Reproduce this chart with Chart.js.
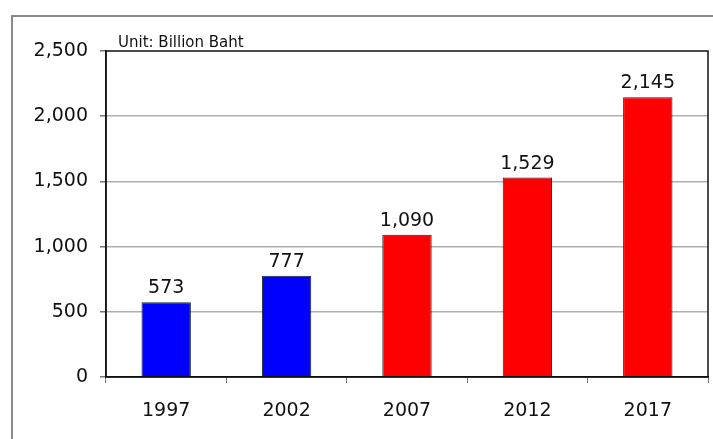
<!DOCTYPE html>
<html>
<head>
<meta charset="utf-8">
<script src="https://cdn.jsdelivr.net/npm/chart.js@4.4.1/dist/chart.umd.min.js"></script>
<style>
  html, body { margin: 0; padding: 0; background: #fff; overflow: hidden; }
  #wrap { width: 713px; height: 439px; position: relative; }
</style>
</head>
<body>
<div id="wrap"><canvas id="budget_chart" width="713" height="439"></canvas></div>
<script>
// chart data
const years = ["1997", "2002", "2007", "2012", "2017"];
const budget_values = [573, 777, 1090, 1529, 2145];
const bar_colors = ["#0000ff", "#0000ff", "#ff0000", "#ff0000", "#ff0000"];
const y_ticks = [0, 500, 1000, 1500, 2000, 2500];
const unit_text = "Unit: Billion Baht";

const font_family = "'DejaVu Sans', Verdana, sans-serif";

// draws frame, plot border, unit note and value labels
const decorations = {
    id: "decorations",
    afterDatasetsDraw(chart) {
        const ctx = chart.ctx;
        const meta = chart.getDatasetMeta(0);
        ctx.save();
        ctx.font = "19px " + font_family;
        ctx.fillStyle = "#111";
        ctx.textAlign = "center";
        ctx.textBaseline = "alphabetic";
        meta.data.forEach((bar, i) => {
            ctx.fillText(budget_values[i].toLocaleString("en-US"), bar.x, bar.y - 9);
        });
        ctx.restore();
    },
    afterDraw(chart) {
        const ctx = chart.ctx;
        const area = chart.chartArea;
        ctx.save();
        // outer frame: left and top edges only
        ctx.fillStyle = "#8a8a8a";
        ctx.fillRect(11, 15, 2, 424);
        ctx.fillRect(11, 15, 702, 2);
        // plot border
        ctx.strokeStyle = "#111";
        ctx.lineWidth = 1.5;
        ctx.strokeRect(area.left, area.top, area.right - area.left, area.bottom - area.top);
        // unit note
        ctx.font = "15px " + font_family;
        ctx.fillStyle = "#111";
        ctx.textAlign = "left";
        ctx.textBaseline = "alphabetic";
        ctx.fillText(unit_text, area.left + 12, area.top - 4);
        ctx.restore();
    }
};

const budget_chart = new Chart("budget_chart", {
    type: "bar",
    data: {
        labels: years,
        datasets: [{
            label: "budget",
            data: budget_values,
            backgroundColor: bar_colors,
            borderColor: "#222",
            borderWidth: 1,
            barPercentage: 0.41,
            categoryPercentage: 1.0
        }]
    },
    options: {
        animation: false,
        responsive: false,
        layout: { padding: { left: 0, top: 51, right: 5, bottom: 0 } },
        plugins: {
            legend: { display: false },
            tooltip: { enabled: false }
        },
        scales: {
            x: {
                grid: {
                    offset: true,
                    drawOnChartArea: false,
                    tickLength: 6,
                    color: "#777"
                },
                border: { color: "#111", width: 1.5 },
                ticks: {
                    color: "#111",
                    padding: 17,
                    font: { family: font_family, size: 19 }
                },
                afterFit: (scale) => { scale.height = 62; }
            },
            y: {
                min: 0,
                max: 2500,
                afterBuildTicks: (scale) => {
                    scale.ticks = y_ticks.map(v => ({ value: v }));
                },
                grid: {
                    color: (c) => (c.tick && (c.tick.value === 0 || c.tick.value === 2500)) ? "rgba(0,0,0,0)" : "#b0b0b0",
                    tickColor: "#777",
                    tickLength: 6,
                    lineWidth: 1.5
                },
                border: { color: "#111", width: 1.5 },
                ticks: {
                    color: "#111",
                    padding: 12,
                    font: { family: font_family, size: 19 },
                    callback: (value) => value.toLocaleString("en-US")
                },
                afterFit: (scale) => { scale.width = 106; }
            }
        }
    },
    plugins: [decorations]
});
</script>
</body>
</html>
